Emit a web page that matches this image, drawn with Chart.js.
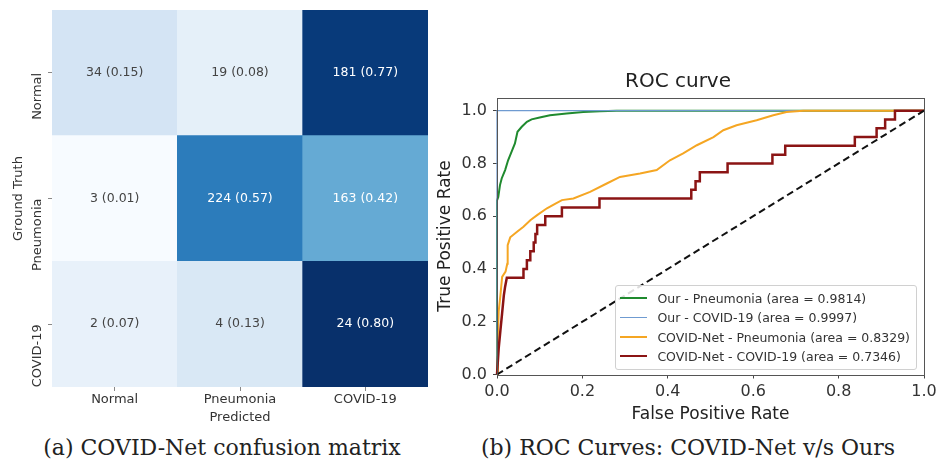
<!DOCTYPE html>
<html>
<head>
<meta charset="utf-8">
<script src="https://cdn.jsdelivr.net/npm/chart.js@4.4.0/dist/chart.umd.min.js"></script>
<style>
  body { margin: 0; background: #fff; width: 937px; height: 459px; position: relative; overflow: hidden; font-family: 'DejaVu Sans', sans-serif; }
  #cmCanvas { position: absolute; left: 0; top: 0; }
  #rocWrap { position: absolute; left: 432px; top: 55px; width: 505px; height: 372px; }
  #rocLegend { position: absolute; background: rgba(255,255,255,0.85); border: 1px solid #d0d0d0; border-radius: 3px; padding: 3px 0 3px 0; font-size: 12.5px; color: #333; }
  #rocLegend .item { display: flex; align-items: center; height: 19.3px; white-space: nowrap; padding-right: 6px; }
  #rocLegend .swatch { width: 27px; margin: 0 10px 0 4px; }
  .caption { position: absolute; top: 435px; font-family: 'DejaVu Serif', serif; font-size: 22px; line-height: 26px; color: #222; white-space: nowrap; transform: translateX(-50%); }
</style>
</head>
<body>
<canvas id="cmCanvas" width="432" height="430"></canvas>
<div id="rocWrap">
  <canvas id="rocCanvas" width="505" height="372"></canvas>
  <div id="rocLegend"></div>
</div>
<div class="caption" style="left:222px">(a) COVID-Net confusion matrix</div>
<div class="caption" style="left:688px">(b) ROC Curves: COVID-Net v/s Ours</div>
<script>
// ---- confusion matrix data ----
var predictedLabels = ['Normal', 'Pneumonia', 'COVID-19'];
var truthLabels = ['Normal', 'Pneumonia', 'COVID-19'];
var counts = [
  [34, 19, 181],
  [3, 224, 163],
  [2, 4, 24]
];
var fractions = [
  [0.15, 0.08, 0.77],
  [0.01, 0.57, 0.42],
  [0.07, 0.13, 0.80]
];

// ---- ROC data ----
var rocTicks = [0, 0.2, 0.4, 0.6, 0.8, 1.0];

var ourPneumoniaFpr = [0, 0, 0.003, 0.007, 0.011, 0.019, 0.026, 0.034, 0.042, 0.048, 0.058, 0.07, 0.081, 0.1, 0.124, 0.163, 0.202, 0.241, 0.28, 1];
var ourPneumoniaTpr = [0, 0.66, 0.673, 0.718, 0.743, 0.775, 0.812, 0.844, 0.876, 0.92, 0.939, 0.958, 0.967, 0.974, 0.983, 0.989, 0.995, 0.998, 1, 1];

var ourCovidFpr = [0, 0, 1];
var ourCovidTpr = [0, 1, 1];

var netPneumoniaFpr = [0, 0.002, 0.004, 0.008, 0.012, 0.02, 0.024, 0.025, 0.031, 0.047, 0.062, 0.078, 0.094, 0.117, 0.137, 0.152, 0.179, 0.218, 0.257, 0.288, 0.335, 0.374, 0.405, 0.436, 0.468, 0.507, 0.53, 0.561, 0.608, 0.647, 0.678, 0.717, 1];
var netPneumoniaTpr = [0, 0.15, 0.24, 0.3, 0.37, 0.39, 0.42, 0.49, 0.52, 0.541, 0.56, 0.585, 0.604, 0.63, 0.648, 0.661, 0.667, 0.692, 0.724, 0.749, 0.762, 0.775, 0.812, 0.838, 0.869, 0.9, 0.926, 0.945, 0.964, 0.983, 0.995, 1, 1];

var netCovidFpr = [0, 0.004, 0.008, 0.012, 0.016, 0.019, 0.023, 0.062, 0.062, 0.07, 0.07, 0.078, 0.078, 0.086, 0.086, 0.09, 0.09, 0.094, 0.094, 0.113, 0.113, 0.152, 0.152, 0.24, 0.24, 0.455, 0.455, 0.465, 0.465, 0.475, 0.475, 0.54, 0.54, 0.645, 0.645, 0.675, 0.675, 0.838, 0.838, 0.889, 0.889, 0.909, 0.909, 0.932, 0.932, 1];
var netCovidTpr = [0, 0.1, 0.167, 0.233, 0.3, 0.333, 0.367, 0.367, 0.4, 0.4, 0.433, 0.433, 0.467, 0.467, 0.5, 0.5, 0.533, 0.533, 0.567, 0.567, 0.6, 0.6, 0.633, 0.633, 0.667, 0.667, 0.7, 0.7, 0.733, 0.733, 0.767, 0.767, 0.8, 0.8, 0.833, 0.833, 0.867, 0.867, 0.9, 0.9, 0.933, 0.933, 0.967, 0.967, 1, 1];

var chanceFpr = [0, 1];
var chanceTpr = [0, 1];

var rocLabels = [
  'Our - Pneumonia (area = 0.9814)',
  'Our - COVID-19 (area = 0.9997)',
  'COVID-Net - Pneumonia (area = 0.8329)',
  'COVID-Net - COVID-19 (area = 0.7346)'
];

// ---- helpers ----
var BLUES = ['#f7fbff', '#deebf7', '#c6dbef', '#9ecae1', '#6baed6', '#4292c6', '#2171b5', '#08519c', '#08306b'];
var allFrac = [].concat.apply([], fractions);
var vmin = Math.min.apply(null, allFrac), vmax = Math.max.apply(null, allFrac);

function norm(v) { return Math.max(0, Math.min(1, (v - vmin) / (vmax - vmin))); }

function hexToRgb(h) {
  return [parseInt(h.substr(1, 2), 16), parseInt(h.substr(3, 2), 16), parseInt(h.substr(5, 2), 16)];
}

function blues(v) {
  var p = norm(v) * (BLUES.length - 1);
  var i = Math.min(Math.floor(p), BLUES.length - 2), f = p - i;
  var a = hexToRgb(BLUES[i]), b = hexToRgb(BLUES[i + 1]);
  var c = a.map(function (x, k) { return Math.round(x + (b[k] - x) * f); });
  return 'rgb(' + c.join(',') + ')';
}

function toPoints(xs, ys) {
  return xs.map(function (x, i) { return { x: x, y: ys[i] }; });
}

var FONT = "'DejaVu Sans', sans-serif";

// ---- confusion matrix (stacked bars, bottom row first) ----
var cmDatasets = truthLabels.map(function (name, r) { return r; }).reverse().map(function (r) {
  return {
    label: truthLabels[r],
    row: r,
    data: predictedLabels.map(function () { return 1; }),
    backgroundColor: fractions[r].map(blues),
    borderWidth: 0,
    barPercentage: 1,
    categoryPercentage: 1
  };
});

var cellLabels = {
  id: 'cellLabels',
  afterDatasetsDraw: function (chart) {
    var ctx = chart.ctx;
    ctx.save();
    ctx.font = '12.5px ' + FONT;
    ctx.textAlign = 'center';
    ctx.textBaseline = 'middle';
    chart.data.datasets.forEach(function (ds, di) {
      chart.getDatasetMeta(di).data.forEach(function (bar, ci) {
        var f = fractions[ds.row][ci];
        ctx.fillStyle = norm(f) > 0.5 ? '#ffffff' : '#444444';
        ctx.fillText(counts[ds.row][ci] + ' (' + f.toFixed(2) + ')', bar.x, (bar.y + bar.base) / 2);
      });
    });
    ctx.restore();
  }
};

new Chart(document.getElementById('cmCanvas'), {
  type: 'bar',
  data: { labels: predictedLabels, datasets: cmDatasets },
  options: {
    responsive: false,
    animation: false,
    devicePixelRatio: 1,
    layout: { padding: { top: 10, right: 4, left: 0, bottom: 0 } },
    plugins: { legend: { display: false }, tooltip: { enabled: false } },
    scales: {
      x: {
        stacked: true,
        border: { display: false },
        grid: { offset: false, drawOnChartArea: false, tickLength: 4, color: '#888' },
        ticks: { color: '#333', font: { family: FONT, size: 13 }, padding: 1, maxRotation: 0 },
        title: { display: true, text: 'Predicted', color: '#333', font: { family: FONT, size: 13 }, padding: { top: 0, bottom: 5 } },
        afterFit: function (s) { s.height = 43; s.paddingLeft = 0; s.paddingRight = 0; }
      },
      y: {
        stacked: true,
        min: 0,
        max: truthLabels.length,
        border: { display: false },
        grid: { drawOnChartArea: false, tickLength: 4, color: '#888' },
        afterBuildTicks: function (s) {
          s.ticks = truthLabels.map(function (n, i) { return { value: truthLabels.length - i - 0.5 }; });
        },
        ticks: {
          color: '#333',
          font: { family: FONT, size: 13 },
          padding: 10,
          minRotation: 90,
          maxRotation: 90,
          callback: function (v, i) { return truthLabels[i]; }
        },
        title: { display: true, text: 'Ground Truth', color: '#333', font: { family: FONT, size: 13 }, padding: { top: 11, bottom: 0 } },
        afterFit: function (s) { s.width = 52; s.paddingTop = 0; s.paddingBottom = 0; }
      }
    }
  },
  plugins: [cellLabels]
});

// ---- ROC curve ----
var rocColors = ['#1f8a2e', '#6f9bd1', '#f5a623', '#8b1414'];
var rocWidths = [2, 1.2, 2, 2.5];
var rocSeries = [
  [ourPneumoniaFpr, ourPneumoniaTpr],
  [ourCovidFpr, ourCovidTpr],
  [netPneumoniaFpr, netPneumoniaTpr],
  [netCovidFpr, netCovidTpr]
];

var rocDatasets = rocSeries.map(function (s, i) {
  return {
    label: rocLabels[i],
    data: toPoints(s[0], s[1]),
    borderColor: rocColors[i],
    borderWidth: rocWidths[i],
    showLine: true,
    pointRadius: 0,
    fill: false,
    tension: 0,
    clip: false,
    order: rocSeries.length - i
  };
});
rocDatasets.push({
  label: '',
  data: toPoints(chanceFpr, chanceTpr),
  borderColor: '#111',
  borderWidth: 2,
  borderDash: [7, 4],
  showLine: true,
  pointRadius: 0,
  clip: false,
  order: 0
});

var framePlugin = {
  id: 'frame',
  afterDatasetsDraw: function (chart) {
    var a = chart.chartArea, ctx = chart.ctx;
    ctx.save();
    ctx.strokeStyle = '#555';
    ctx.lineWidth = 1;
    ctx.strokeRect(Math.round(a.left) + 0.5, Math.round(a.top) + 0.5, Math.round(a.right - a.left), Math.round(a.bottom - a.top));
    ctx.restore();
  }
};

var rocChart = new Chart(document.getElementById('rocCanvas'), {
  type: 'scatter',
  data: { datasets: rocDatasets },
  options: {
    responsive: false,
    animation: false,
    devicePixelRatio: 1,
    layout: { padding: { top: 0, right: 13, left: 0, bottom: 0 } },
    plugins: {
      legend: { display: false },
      tooltip: { enabled: false },
      title: { display: true, text: 'ROC curve', color: '#222', font: { family: FONT, size: 20, weight: 'normal' }, padding: { top: 15, bottom: 3.5 } }
    },
    scales: {
      x: {
        type: 'linear',
        min: 0,
        max: 1,
        border: { display: false },
        grid: { drawOnChartArea: false, tickLength: 4, color: '#444' },
        afterBuildTicks: function (s) { s.ticks = rocTicks.map(function (v) { return { value: v }; }); },
        ticks: { color: '#333', font: { family: FONT, size: 16 }, padding: 4, callback: function (v) { return v.toFixed(1); } },
        title: { display: true, text: 'False Positive Rate', color: '#222', font: { family: FONT, size: 17 }, padding: { top: 0, bottom: 2 } },
        afterFit: function (s) { s.height = 52.5; s.paddingLeft = 0; s.paddingRight = 0; }
      },
      y: {
        type: 'linear',
        min: 0,
        max: 1.05,
        border: { display: false },
        grid: { drawOnChartArea: false, tickLength: 4, color: '#444' },
        afterBuildTicks: function (s) { s.ticks = rocTicks.map(function (v) { return { value: v }; }); },
        ticks: { color: '#333', font: { family: FONT, size: 16 }, padding: 6, callback: function (v) { return v.toFixed(1); } },
        title: { display: true, text: 'True Positive Rate', color: '#222', font: { family: FONT, size: 17 }, padding: { top: 3, bottom: 0 } },
        afterFit: function (s) { s.width = 65; s.paddingTop = 0; s.paddingBottom = 0; }
      }
    }
  },
  plugins: [framePlugin]
});

// HTML legend in the lower right corner of the plot area
(function () {
  var box = document.getElementById('rocLegend');
  var a = rocChart.chartArea;
  rocChart.data.datasets.forEach(function (ds) {
    if (!ds.label) return;
    var item = document.createElement('div');
    item.className = 'item';
    var sw = document.createElement('span');
    sw.className = 'swatch';
    sw.style.borderTop = ds.borderWidth + 'px solid ' + ds.borderColor;
    var tx = document.createElement('span');
    tx.textContent = ds.label;
    item.appendChild(sw);
    item.appendChild(tx);
    box.appendChild(item);
  });
  box.style.right = (505 - a.right + 7) + 'px';
  box.style.bottom = (372 - a.bottom + 4.5) + 'px';
})();
</script>
</body>
</html>
